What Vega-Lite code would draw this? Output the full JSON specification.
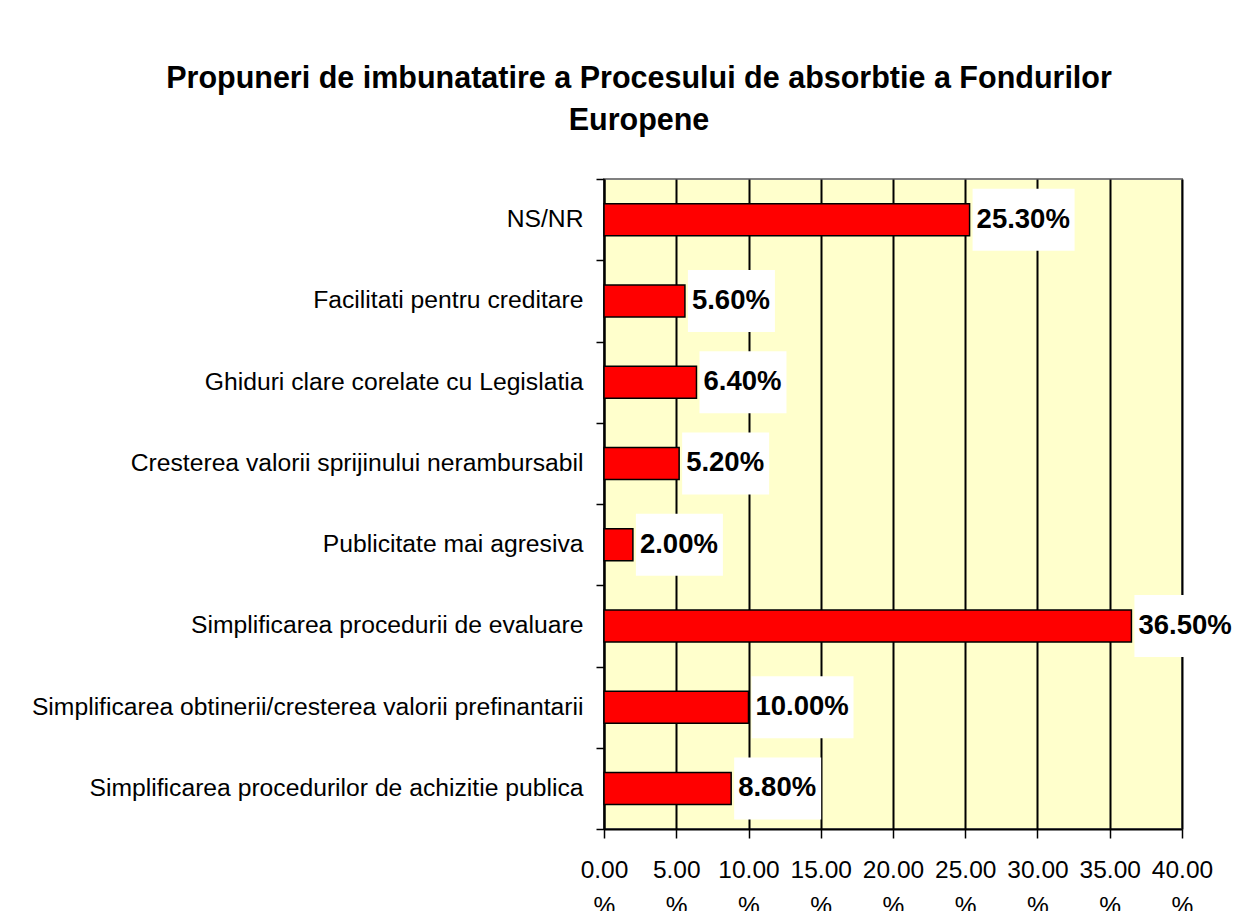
{
  "$schema": "https://vega.github.io/schema/vega-lite/v6.json",
  "autosize": {"type": "none"},
  "width": 578,
  "height": 650,
  "padding": {"left": 604, "top": 179, "right": 52, "bottom": 82},
  "background": "#ffffff",
  "title": {
    "text": ["Propuneri de imbunatatire a Procesului de absorbtie a Fondurilor", "Europene"],
    "font": "Liberation Sans",
    "fontSize": 30.5,
    "fontWeight": "bold",
    "color": "#000000",
    "lineHeight": 42,
    "anchor": "middle",
    "frame": "group",
    "dx": -254,
    "offset": 30
  },
  "data": {
    "values": [
      {"category": "NS/NR", "value": 0.253},
      {"category": "Facilitati pentru creditare", "value": 0.056},
      {"category": "Ghiduri clare corelate cu Legislatia", "value": 0.064},
      {"category": "Cresterea valorii sprijinului nerambursabil", "value": 0.052},
      {"category": "Publicitate mai agresiva", "value": 0.02},
      {"category": "Simplificarea procedurii de evaluare", "value": 0.365},
      {"category": "Simplificarea obtinerii/cresterea valorii prefinantarii", "value": 0.1},
      {"category": "Simplificarea procedurilor de achizitie publica", "value": 0.088}
    ]
  },
  "encoding": {
    "y": {
      "field": "category",
      "type": "nominal",
      "sort": null,
      "scale": {"paddingInner": 0, "paddingOuter": 0},
      "axis": {
        "title": null,
        "tickBand": "extent",
        "tickSize": 8,
        "tickColor": "#000000",
        "tickWidth": 1.5,
        "domainColor": "#000000",
        "domainWidth": 2,
        "labelFont": "Liberation Sans",
        "labelFontSize": 24.7,
        "labelColor": "#000000",
        "labelPadding": 13,
        "labelLimit": 700
      }
    },
    "x": {
      "field": "value",
      "type": "quantitative",
      "scale": {"domain": [0, 0.4], "nice": false},
      "axis": {
        "title": null,
        "values": [0, 0.05, 0.1, 0.15, 0.2, 0.25, 0.3, 0.35, 0.4],
        "format": ".2%",
        "labelExpr": "[replace(datum.label, '%', ''), '%']",
        "labelFont": "Liberation Sans",
        "labelFontSize": 24.5,
        "labelLineHeight": 36,
        "labelColor": "#000000",
        "labelPadding": 20,
        "labelFlush": false,
        "labelAlign": "center",
        "labelOverlap": false,
        "tickSize": 9,
        "tickColor": "#000000",
        "tickWidth": 1.5,
        "domainColor": "#000000",
        "domainWidth": 2,
        "grid": true,
        "gridColor": "#000000",
        "gridWidth": 2
      }
    }
  },
  "layer": [
    {
      "mark": {"type": "bar", "size": 32, "color": "#ff0000", "stroke": "#000000", "strokeWidth": 1.5}
    },
    {
      "mark": {"type": "point", "filled": true, "fill": "#ffffff", "strokeWidth": 0, "opacity": 1, "size": 4},
      "encoding": {
        "shape": {
          "condition": {"test": "datum.value >= 0.1", "value": "M3,-31H105V31H3Z"},
          "value": "M3,-31H90V31H3Z"
        }
      }
    },
    {
      "mark": {
        "type": "text",
        "align": "left",
        "baseline": "middle",
        "dx": 7,
        "font": "Liberation Sans",
        "fontSize": 27.5,
        "fontWeight": "bold",
        "color": "#000000"
      },
      "encoding": {
        "text": {"field": "value", "type": "quantitative", "format": ".2%"}
      }
    }
  ],
  "config": {
    "view": {"fill": "#ffffcc", "stroke": "#808080", "strokeWidth": 2}
  }
}
